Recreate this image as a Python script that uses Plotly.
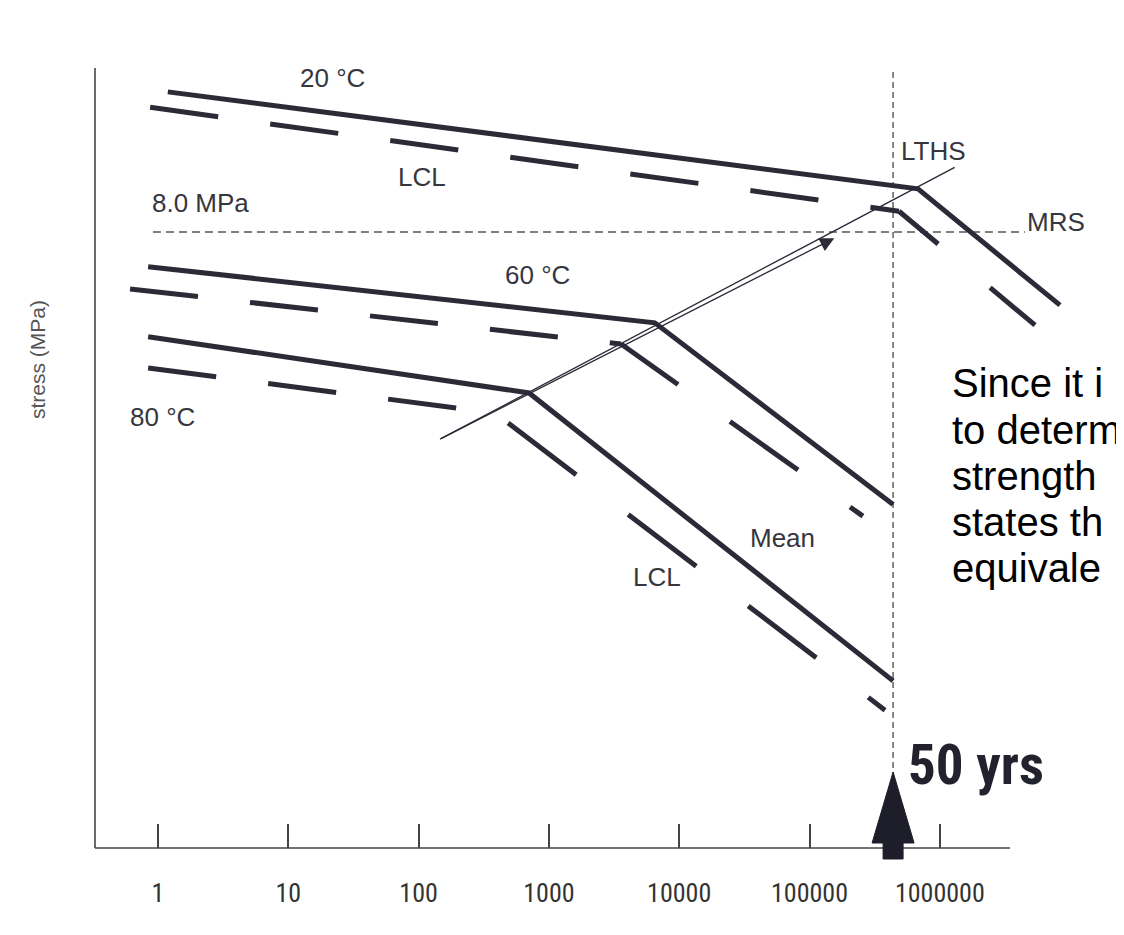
import math
import plotly.graph_objects as go

# ---------------- data (time in hours, stress in MPa) ----------------
mean20_t = [1.19, 6.8e5, 8.36e6]
mean20_s = [9.82, 8.56, 7.05]
lcl20_t = [0.87, 4.86e5, 5.38e6]
lcl20_s = [9.62, 8.27, 6.79]

mean60_t = [0.84, 6.5e3, 4.38e5]
mean60_s = [7.55, 6.82, 4.46]
lcl60_t = [0.61, 3.58e3, 2.57e5]
lcl60_s = [7.26, 6.545, 4.31]

mean80_t = [0.84, 704, 4.38e5]
mean80_s = [6.64, 5.91, 2.17]
lcl80_t = [0.84, 386, 3.8e5]
lcl80_s = [6.234, 5.649, 1.79]

knee_trend_t = [146, 1.3e6]
knee_trend_s = [5.31, 8.84]
arrow_tip_t = 1.55e5
arrow_tip_s = 7.92

mrs_value = 8.0
mrs_t = [0.915, 4.5e6]
fifty_years_h = 438000
lths_top_s = 10.1

tick_vals = [1, 10, 100, 1000, 10000, 100000, 1000000]
tick_text = ["1", "10", "100", "1000", "10000", "100000", "1000000"]

axis_x_start = 0.3285
axis_x_end = 3.46e6
axis_y_top = 10.13

# ---------------- layout scale ----------------
PAGE_MARGIN = 8                     # default <body> margin of the html page
W, H = 1124 - PAGE_MARGIN, 935 - PAGE_MARGIN
X0_PX = 158.0 - PAGE_MARGIN         # figure pixel of t = 1 h
PX_DEC = 130.3                      # pixels per decade
Y0_PX = 848.0 - PAGE_MARGIN         # figure pixel of 0 MPa
PX_MPA = 77.0                       # pixels per MPa

x_range = [(0 - X0_PX) / PX_DEC, (W - X0_PX) / PX_DEC]
y_range = [-(H - Y0_PX) / PX_MPA, Y0_PX / PX_MPA]

INK = "#2b2b38"
TXT = "#36363e"
LABEL_FONT = "Liberation Sans, Arial, sans-serif"
COND_FONT = "Roboto Condensed, Liberation Sans Narrow, Arial Narrow, sans-serif"

fig = go.Figure()


def to_px(t, s):
    return X0_PX + PX_DEC * math.log10(t), Y0_PX - PX_MPA * s


DASH_X, GAP_X = 68.0, 52.0
PERIOD = DASH_X + GAP_X


def dash_pattern(phase, f, total_len):
    arr = []
    if phase < DASH_X:
        arr += [(DASH_X - phase) * f, GAP_X * f]
    else:
        arr += [0.0, (PERIOD - phase) * f]
    while sum(arr) < total_len + 2 * PERIOD * f:
        arr += [DASH_X * f, GAP_X * f]
    return ",".join(f"{v:.1f}px" for v in arr)


def add_lcl(ts, ss):
    x_start = to_px(ts[0], ss[0])[0]
    for i in range(len(ts) - 1):
        xa, ya = to_px(ts[i], ss[i])
        xb, yb = to_px(ts[i + 1], ss[i + 1])
        dx = xb - xa
        seg_len = math.hypot(dx, yb - ya)
        f = seg_len / dx
        phase = (xa - x_start) % PERIOD
        fig.add_trace(go.Scatter(
            x=ts[i:i + 2], y=ss[i:i + 2], mode="lines",
            line=dict(color=INK, width=5, dash=dash_pattern(phase, f, seg_len)),
            hoverinfo="skip"))


def add_mean(ts, ss):
    fig.add_trace(go.Scatter(x=ts, y=ss, mode="lines",
                             line=dict(color=INK, width=5), hoverinfo="skip"))


# reference lines
fig.add_trace(go.Scatter(x=mrs_t, y=[mrs_value, mrs_value], mode="lines",
                         line=dict(color="#555", width=1.4, dash="8px,5px"), hoverinfo="skip"))
fig.add_trace(go.Scatter(x=[fifty_years_h, fifty_years_h], y=[0, lths_top_s], mode="lines",
                         line=dict(color="#555", width=1.4, dash="6px,4px"), hoverinfo="skip"))

for t, s in [(mean20_t, mean20_s), (mean60_t, mean60_s), (mean80_t, mean80_s)]:
    add_mean(t, s)
for t, s in [(lcl20_t, lcl20_s), (lcl60_t, lcl60_s), (lcl80_t, lcl80_s)]:
    add_lcl(t, s)

# knee trend line
fig.add_trace(go.Scatter(x=knee_trend_t, y=knee_trend_s, mode="lines",
                         line=dict(color=INK, width=1.4), hoverinfo="skip"))

# axes lines
fig.add_trace(go.Scatter(x=[axis_x_start, axis_x_start], y=[0, axis_y_top], mode="lines",
                         line=dict(color="#444", width=1.6), hoverinfo="skip"))
fig.add_trace(go.Scatter(x=[axis_x_start, axis_x_end], y=[0, 0], mode="lines",
                         line=dict(color="#444", width=1.6), hoverinfo="skip"))

# big 50-year arrow (sizes in pixels)
tip_dy, base_dy, bottom_dy = 76.0, 5.0, -11.0
head_hw, shaft_hw = 21.0, 10.0
lx = math.log10(fifty_years_h)
ax_pts = [(0, tip_dy), (head_hw, base_dy), (shaft_hw, base_dy), (shaft_hw, bottom_dy),
          (-shaft_hw, bottom_dy), (-shaft_hw, base_dy), (-head_hw, base_dy), (0, tip_dy)]
fig.add_trace(go.Scatter(
    x=[10 ** (lx + dx / PX_DEC) for dx, dy in ax_pts],
    y=[dy / PX_MPA for dx, dy in ax_pts],
    mode="lines", fill="toself", fillcolor="#1e1e2a",
    line=dict(color="#1e1e2a", width=1), hoverinfo="skip"))

annotations = []

# small arrow head on the knee trend line
annotations.append(dict(
    x=math.log10(arrow_tip_t), y=arrow_tip_s, xref="x", yref="y",
    ax=math.log10(knee_trend_t[0]), ay=knee_trend_s[0], axref="x", ayref="y",
    showarrow=True, arrowhead=2, arrowsize=2.2, arrowwidth=1.3, arrowcolor=INK, text=""))


def label(text, t, s, size=26, xanchor="center", color=TXT, family=LABEL_FONT):
    annotations.append(dict(
        x=math.log10(t), y=s, xref="x", yref="y", text=text,
        showarrow=False, xanchor=xanchor, yanchor="middle",
        font=dict(size=size, color=color, family=family)))


label("20 °C", 10 ** 1.343, 10.0)
label("LCL", 10 ** 2.026, 8.71)
label("8.0 MPa", 0.87, 8.38, xanchor="left")
label("LTHS", 10 ** 5.69, 9.05, xanchor="left")
label("MRS", 10 ** 6.654, 8.13, xanchor="left")
label("60 °C", 10 ** 2.909, 7.44)
label("80 °C", 10 ** 0.038, 5.6)
label("Mean", 10 ** 4.789, 4.03)
label("LCL", 10 ** 3.83, 3.52)
label("<b>50 yrs</b>", 10 ** 5.74, 1.08, size=55, xanchor="left", color="#22222e", family=COND_FONT)


def page_xy(wx, wy):
    """window pixel -> paper coordinates"""
    return (wx - PAGE_MARGIN) / W, 1 - (wy - PAGE_MARGIN) / H


# y axis title
px_, py_ = page_xy(37, 360)
annotations.append(dict(x=px_, y=py_, xref="paper", yref="paper", xanchor="center", yanchor="middle",
                        text="stress (MPa)", textangle=-90, showarrow=False,
                        font=dict(size=21, color="#555", family=LABEL_FONT)))

# overlaid slide text (cut at the right edge in the source)
slide_lines = ["Since it i", "to determ", "strength", "states th", "equivale"]
slide_y = [383, 430, 476, 522, 568]
for txt, yp in zip(slide_lines, slide_y):
    px_, py_ = page_xy(950, yp)
    annotations.append(dict(x=px_, y=py_, xref="paper", yref="paper",
                            text=txt, showarrow=False, xanchor="left", yanchor="middle",
                            font=dict(size=40, color="#000",
                                      family="Liberation Sans, Arial, sans-serif")))

fig.update_layout(
    width=W, height=H, margin=dict(l=0, r=0, t=0, b=0),
    paper_bgcolor="white", plot_bgcolor="white", showlegend=False,
    annotations=annotations,
    xaxis=dict(type="log", range=x_range, domain=[0, 1], anchor="free", position=(H - Y0_PX) / H,
               showgrid=False, zeroline=False, showline=False,
               ticks="inside", ticklen=24, tickwidth=1.5, tickcolor="#444",
               tickvals=tick_vals, ticktext=tick_text, ticklabelstandoff=27,
               tickfont=dict(size=26, color="#333", family=COND_FONT)),
    yaxis=dict(range=y_range, domain=[0, 1], visible=False),
)

fig.write_html("out.html")
